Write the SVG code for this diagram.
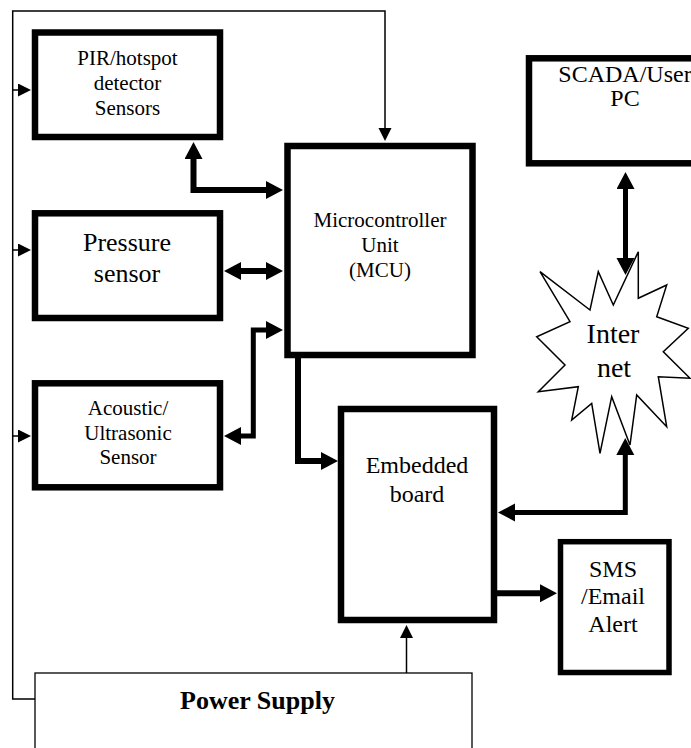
<svg xmlns="http://www.w3.org/2000/svg" width="691" height="748" viewBox="0 0 691 748">
  <style>
    .box { fill: #fff; stroke: #000; stroke-width: 6.5; }
    .thin-box { fill: #fff; stroke: #000; stroke-width: 1.3; }
    .star { fill: #fff; stroke: #000; stroke-width: 1.5; stroke-linejoin: miter; }
    .lbl { font-family: "Liberation Serif", "Times New Roman", serif; fill: #000; text-anchor: middle; }
    .wire { fill: none; stroke: #000; stroke-width: 1.5; }
    .bus { fill: none; stroke: #000; stroke-width: 6; stroke-linejoin: miter; }
    .bus5 { fill: none; stroke: #000; stroke-width: 5; stroke-linejoin: miter; }
  </style>
  <defs>
    <marker id="head-thin" markerUnits="userSpaceOnUse" markerWidth="14" markerHeight="14" refX="1" refY="6.5" orient="auto-start-reverse">
      <path d="M0,0 L13,6.5 L0,13 z" fill="#000"/>
    </marker>
    <marker id="head-thick" markerUnits="userSpaceOnUse" markerWidth="18" markerHeight="19" refX="1" refY="9" orient="auto-start-reverse">
      <path d="M0,0 L17,9 L0,18 z" fill="#000"/>
    </marker>
  </defs>

  <rect width="691" height="748" fill="#fff"/>

  <!-- connectors -->
  <g id="connectors">
    <!-- power distribution loop -->
    <polyline class="wire" points="35,699 12.7,699 12.7,11 385,11 385,129" marker-end="url(#head-thin)"/>
    <line class="wire" x1="12.7" y1="90" x2="19" y2="90" marker-end="url(#head-thin)"/>
    <line class="wire" x1="12.7" y1="250" x2="19" y2="250" marker-end="url(#head-thin)"/>
    <line class="wire" x1="12.7" y1="436" x2="19" y2="436" marker-end="url(#head-thin)"/>
    <line class="wire" x1="406.5" y1="673" x2="406.5" y2="637" marker-end="url(#head-thin)"/>

    <!-- sensor buses -->
    <path class="bus" d="M193.5,158 V190 H267" marker-start="url(#head-thick)" marker-end="url(#head-thick)"/>
    <path class="bus" d="M240,271 H267" marker-start="url(#head-thick)" marker-end="url(#head-thick)"/>
    <path class="bus5" d="M267,330 H253.3 V436 H240" marker-start="url(#head-thick)" marker-end="url(#head-thick)"/>

    <!-- MCU to embedded board -->
    <path class="bus" d="M298,352 V461 H322" marker-end="url(#head-thick)"/>

    <!-- network links -->
    <path class="bus5" d="M625.3,454 V512.5 H514" marker-start="url(#head-thick)" marker-end="url(#head-thick)"/>
    <path class="bus5" d="M625.5,188 V259" marker-start="url(#head-thick)" marker-end="url(#head-thick)"/>

    <!-- alert output -->
    <path class="bus" d="M497,593.3 H541" marker-end="url(#head-thick)"/>
  </g>

  <g id="pir">
    <rect class="box" x="35" y="32.5" width="185" height="104.5"/>
    <text class="lbl" font-size="21" x="127.5" y="65">PIR/hotspot</text>
    <text class="lbl" font-size="21" x="127.5" y="90">detector</text>
    <text class="lbl" font-size="21" x="127.5" y="115">Sensors</text>
  </g>

  <g id="pressure">
    <rect class="box" x="35" y="213.3" width="185" height="104.7"/>
    <text class="lbl" font-size="26" x="127" y="251">Pressure</text>
    <text class="lbl" font-size="26" x="127" y="282">sensor</text>
  </g>

  <g id="acoustic">
    <rect class="box" x="35" y="383.3" width="185" height="104"/>
    <text class="lbl" font-size="21" x="128" y="415">Acoustic/</text>
    <text class="lbl" font-size="21" x="128" y="440">Ultrasonic</text>
    <text class="lbl" font-size="21" x="128" y="464">Sensor</text>
  </g>

  <g id="mcu">
    <rect class="box" x="287.5" y="146" width="185" height="209"/>
    <text class="lbl" font-size="21" x="380" y="227">Microcontroller</text>
    <text class="lbl" font-size="21" x="380" y="252">Unit</text>
    <text class="lbl" font-size="21" x="380" y="277">(MCU)</text>
  </g>

  <g id="embedded">
    <rect class="box" x="341" y="409" width="153" height="211"/>
    <text class="lbl" font-size="24" x="417" y="473">Embedded</text>
    <text class="lbl" font-size="24" x="417" y="502">board</text>
  </g>

  <g id="scada">
    <rect class="box" x="529" y="58.3" width="200" height="105"/>
    <text class="lbl" font-size="24" x="625" y="82">SCADA/User</text>
    <text class="lbl" font-size="24" x="625" y="106">PC</text>
  </g>

  <g id="internet">
    <polygon class="star" points="540,271.7 590,310 598.3,271.7 613.3,305 638.3,251.7 638.3,298.3 666.7,285 656.7,316.7 688.3,328.3 663.3,351.7 690,378.3 658.3,376.7 666.7,426.7 636.7,395 630,445 611.7,396.7 600,453.3 591.7,403.3 571.7,420 578.3,386.7 538.3,391.7 565,365 536.7,336.7 570,321.7"/>
    <text class="lbl" font-size="28" x="613" y="343">Inter</text>
    <text class="lbl" font-size="28" x="614" y="377">net</text>
  </g>

  <g id="sms">
    <rect class="box" x="560.5" y="541.7" width="108.5" height="130.8" style="stroke-width:5.5"/>
    <text class="lbl" font-size="24" x="613" y="577">SMS</text>
    <text class="lbl" font-size="24" x="613" y="604">/Email</text>
    <text class="lbl" font-size="24" x="613" y="632">Alert</text>
  </g>

  <g id="power">
    <rect class="thin-box" x="35" y="673" width="437" height="100"/>
    <text class="lbl" font-size="26" font-weight="bold" x="257.5" y="709">Power Supply</text>
  </g>
</svg>
